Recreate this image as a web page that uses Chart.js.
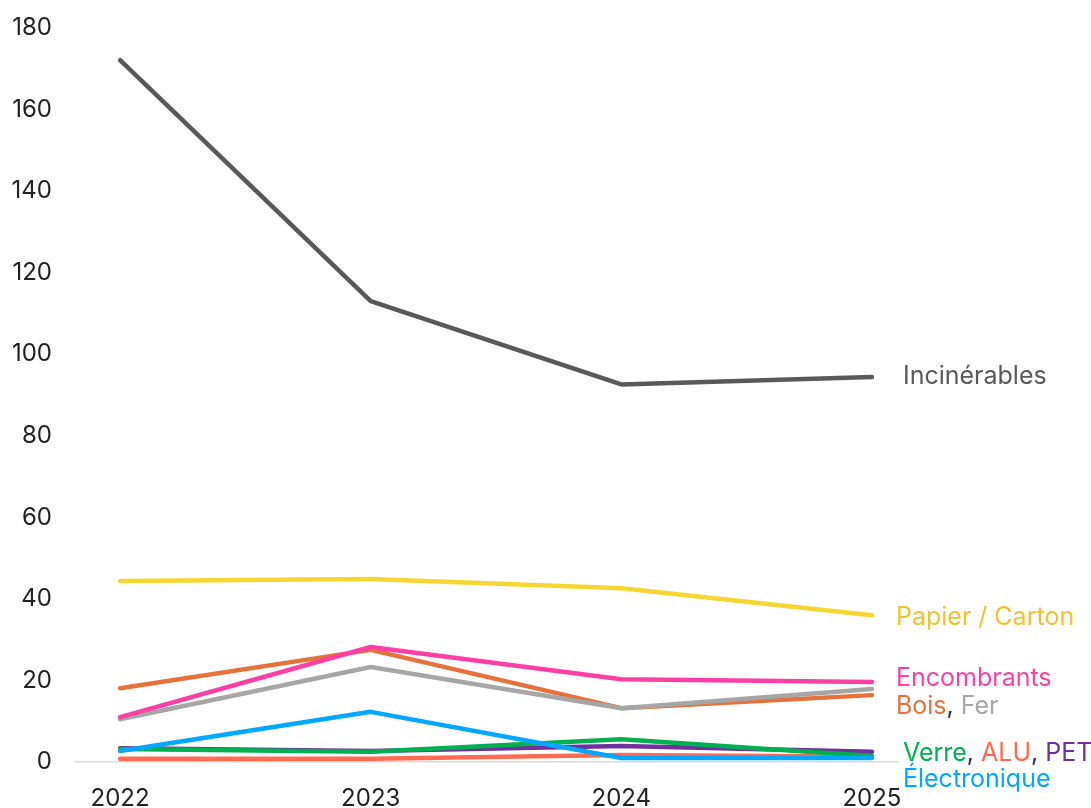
<!DOCTYPE html>
<html lang="fr">
<head>
<meta charset="utf-8">
<title>Déchets par catégorie</title>
<script src="https://cdn.jsdelivr.net/npm/chart.js@4/dist/chart.umd.min.js"></script>
<style>
  html, body { margin: 0; padding: 0; background: #fff; }
  #wrap { width: 1091px; height: 808px; }
</style>
</head>
<body>
<div id="wrap"><canvas id="wasteChart"></canvas></div>
<script>
const years = [2022, 2023, 2024, 2025];
const yTicks = [0, 20, 40, 60, 80, 100, 120, 140, 160, 180];

const incinerables = [172.1, 113.0, 92.6, 94.4];
const papierCarton = [44.4, 44.9, 42.6, 36.0];
const encombrants = [11.0, 28.2, 20.3, 19.6];
const fer = [10.5, 23.3, 13.2, 17.9];
const bois = [18.1, 27.5, 13.2, 16.4];
const electronique = [2.7, 12.3, 1.0, 1.0];
const verre = [3.2, 2.5, 5.6, 1.5];
const pet = [3.4, 2.7, 3.9, 2.5];
const alu = [0.8, 0.8, 1.7, 1.3];

const FONT = 'Inter, "Noto Sans", sans-serif';

function serie(label, values, color) {
    return {
        label: label,
        data: values.map((v, i) => ({ x: years[i], y: v })),
        borderColor: color,
        borderWidth: 4.5,
        pointRadius: 0,
        tension: 0,
        borderCapStyle: 'round',
        borderJoinStyle: 'round',
        clip: false
    };
}

// étiquettes à droite des courbes (texte multicolore)
const endLabels = [
    { y: 94.6, dx: 31, parts: [['Incinérables', '#595959']] },
    { y: 35.5, dx: 24, parts: [['Papier / Carton', '#F2C12E']] },
    { y: 20.6, dx: 24, parts: [['Encombrants', '#FF3FA4']] },
    { y: 13.5, dx: 24, parts: [['Bois', '#E5723A'], [', ', '#333333'], ['Fer', '#A6A6A6']] },
    { y: 2.2, dx: 31, parts: [['Verre', '#00B050'], [', ', '#333333'], ['ALU', '#FF6A50'], [', ', '#333333'], ['PET', '#7030A0']] },
    { y: -4.4, dx: 31, parts: [['Électronique', '#00A8FF']] }
];

const endLabelPlugin = {
    id: 'endLabels',
    afterDatasetsDraw(chart) {
        const ctx = chart.ctx;
        const xs = chart.scales.x;
        const ys = chart.scales.y;
        ctx.save();
        ctx.font = '25px ' + FONT;
        ctx.textBaseline = 'middle';
        ctx.textAlign = 'left';
        endLabels.forEach(lbl => {
            let x = xs.getPixelForValue(years[years.length - 1]) + lbl.dx;
            const y = ys.getPixelForValue(lbl.y);
            lbl.parts.forEach(([txt, col]) => {
                ctx.fillStyle = col;
                ctx.fillText(txt, x, y);
                x += ctx.measureText(txt).width;
            });
        });
        ctx.restore();
    }
};

function noPad(scale) {
    scale.paddingLeft = 0;
    scale.paddingRight = 0;
    scale.paddingTop = 0;
    scale.paddingBottom = 0;
}

const ctx = document.getElementById('wasteChart').getContext('2d');
new Chart(ctx, {
    type: 'line',
    data: {
        datasets: [
            serie('Incinérables', incinerables, '#595959'),
            serie('Papier / Carton', papierCarton, '#F7D531'),
            serie('Encombrants', encombrants, '#FF3FA4'),
            serie('Fer', fer, '#A6A6A6'),
            serie('Bois', bois, '#E5723A'),
            serie('Électronique', electronique, '#00A8FF'),
            serie('Verre', verre, '#00B050'),
            serie('PET', pet, '#7030A0'),
            serie('ALU', alu, '#FF6A50')
        ]
    },
    options: {
        responsive: true,
        maintainAspectRatio: false,
        animation: false,
        layout: { padding: { top: 28, right: 193, bottom: 0, left: 0 } },
        plugins: {
            legend: { display: false },
            tooltip: { enabled: false }
        },
        scales: {
            x: {
                type: 'linear',
                min: 2021.824,
                max: 2025.104,
                afterBuildTicks(scale) {
                    scale.ticks = years.map(v => ({ value: v }));
                },
                afterFit(scale) {
                    noPad(scale);
                    scale.height = 46;
                },
                grid: { display: false, drawTicks: false },
                border: { display: true, color: '#D9D9D9', width: 1.5 },
                ticks: {
                    color: '#222222',
                    font: { family: FONT, size: 24 },
                    padding: 22,
                    maxRotation: 0,
                    autoSkip: false,
                    callback: v => String(v)
                }
            },
            y: {
                min: 0,
                max: 180,
                afterBuildTicks(scale) {
                    scale.ticks = yTicks.map(v => ({ value: v }));
                },
                afterFit(scale) {
                    noPad(scale);
                    scale.width = 76;
                },
                grid: { display: false, drawTicks: false },
                border: { display: false },
                ticks: {
                    color: '#222222',
                    font: { family: FONT, size: 24 },
                    padding: 24
                }
            }
        }
    },
    plugins: [endLabelPlugin]
});
</script>
</body>
</html>
